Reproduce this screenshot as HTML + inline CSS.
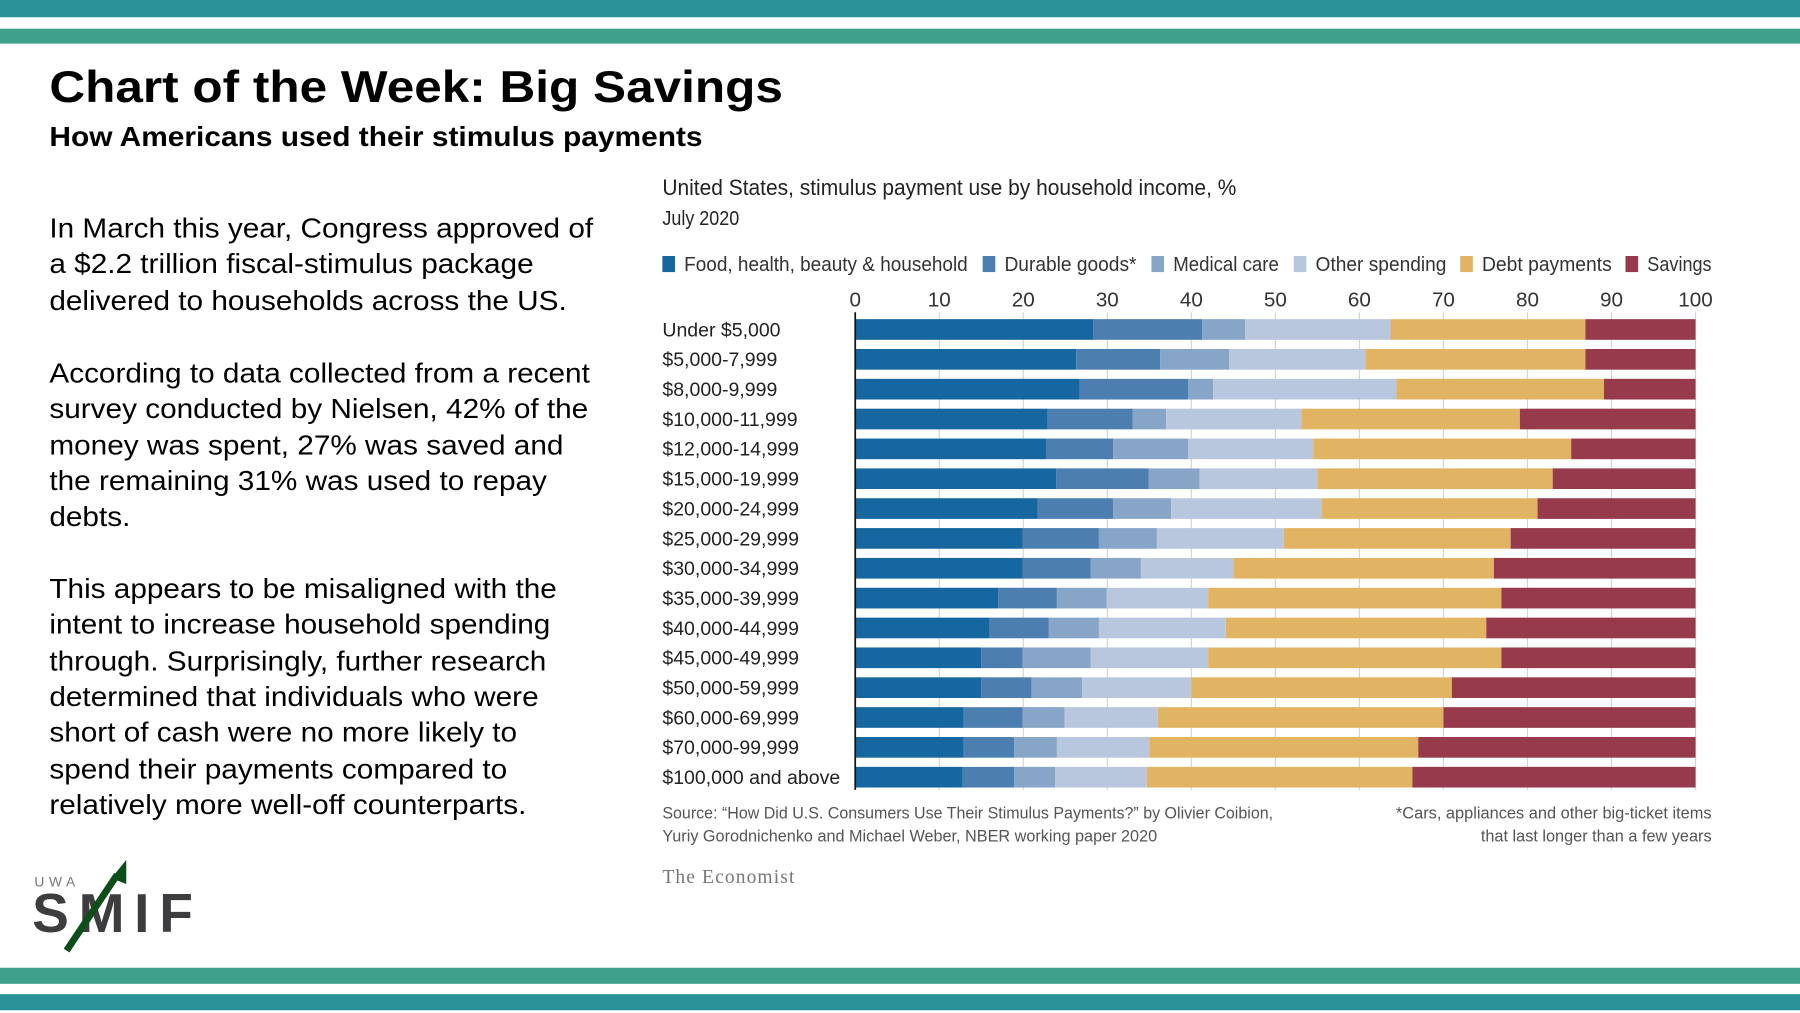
<!DOCTYPE html>
<html><head><meta charset="utf-8">
<style>
html,body{margin:0;padding:0;background:#fff;}
svg{display:block;}
.n{font-family:"Liberation Sans Narrow","Liberation Sans",sans-serif;}
.a{font-family:"Liberation Sans",Arial,sans-serif;}
</style></head>
<body>
<svg id="s" width="1800" height="1013" viewBox="0 0 1568 882.4" preserveAspectRatio="none" xmlns="http://www.w3.org/2000/svg">
<rect x="0" y="0" width="1568" height="15" fill="#2a9399"/>
<rect x="0" y="25" width="1568" height="13" fill="#3fa08c"/>
<rect x="0" y="843" width="1568" height="14" fill="#3fa08c"/>
<rect x="0" y="866" width="1568" height="14" fill="#2a9399"/>

<text class="a" x="43" y="89" font-size="39" font-weight="bold" fill="#000" textLength="639" lengthAdjust="spacingAndGlyphs">Chart of the Week: Big Savings</text>
<text class="a" x="43" y="127" font-size="24" font-weight="bold" fill="#000" textLength="569" lengthAdjust="spacingAndGlyphs">How Americans used their stimulus payments</text>

<g class="a" font-size="24" fill="#000" transform="translate(43,0) scale(1.08,1) translate(-43,0)">
<text x="43" y="207">In March this year, Congress approved of</text>
<text x="43" y="238">a $2.2 trillion fiscal-stimulus package</text>
<text x="43" y="270">delivered to households across the US.</text>
<text x="43" y="333">According to data collected from a recent</text>
<text x="43" y="364">survey conducted by Nielsen, 42% of the</text>
<text x="43" y="396">money was spent, 27% was saved and</text>
<text x="43" y="427">the remaining 31% was used to repay</text>
<text x="43" y="458">debts.</text>
<text x="43" y="521">This appears to be misaligned with the</text>
<text x="43" y="552">intent to increase household spending</text>
<text x="43" y="584">through. Surprisingly, further research</text>
<text x="43" y="615">determined that individuals who were</text>
<text x="43" y="646">short of cash were no more likely to</text>
<text x="43" y="678">spend their payments compared to</text>
<text x="43" y="709">relatively more well-off counterparts.</text>
</g>

<g>
<text class="a" x="30" y="772" font-size="12" fill="#777" letter-spacing="4">UWA</text>
<text class="a" x="28" y="812" font-size="48" font-weight="bold" fill="#3d3d3f" textLength="140" lengthAdjust="spacing">SMIF</text>
<line x1="58" y1="828" x2="102" y2="762" stroke="#0d4d1a" stroke-width="6"/>
<polygon points="97,765 110,749 110,770" fill="#0d4d1a"/>
</g>

<text class="n" x="577" y="170" font-size="19" fill="#222" textLength="500" lengthAdjust="spacingAndGlyphs">United States, stimulus payment use by household income, %</text>
<text class="n" x="577" y="196" font-size="18" fill="#222" textLength="67" lengthAdjust="spacingAndGlyphs">July 2020</text>

<g id="legend"></g>
<g id="chart"></g>

<g class="n" font-size="14.5" fill="#555">
<text x="577" y="713" textLength="532" lengthAdjust="spacingAndGlyphs">Source: “How Did U.S. Consumers Use Their Stimulus Payments?” by Olivier Coibion,</text>
<text x="577" y="733" textLength="431" lengthAdjust="spacingAndGlyphs">Yuriy Gorodnichenko and Michael Weber, NBER working paper 2020</text>
<text x="1491" y="713" text-anchor="end" textLength="275" lengthAdjust="spacingAndGlyphs">*Cars, appliances and other big-ticket items</text>
<text x="1491" y="733" text-anchor="end" textLength="201" lengthAdjust="spacingAndGlyphs">that last longer than a few years</text>
</g>
<text x="577" y="769" font-family="Liberation Serif,serif" font-size="17" fill="#777" textLength="115">The Economist</text>
</svg>
<script>
const categories=["Under $5,000","$5,000-7,999","$8,000-9,999","$10,000-11,999","$12,000-14,999","$15,000-19,999","$20,000-24,999","$25,000-29,999","$30,000-34,999","$35,000-39,999","$40,000-44,999","$45,000-49,999","$50,000-59,999","$60,000-69,999","$70,000-99,999","$100,000 and above"];
const seriesNames=["Food, health, beauty & household","Durable goods*","Medical care","Other spending","Debt payments","Savings"];
const food=[28.3,26.3,26.7,22.9,22.7,23.9,21.7,19.9,19.9,17.0,16.0,15.0,15.0,12.9,12.9,12.8];
const durable=[13.0,10.0,12.9,10.1,8.0,11.0,9.0,9.1,8.1,7.0,7.0,4.9,6.0,7.0,6.0,6.1];
const medical=[5.1,8.2,3.0,4.0,8.9,6.1,6.9,6.9,6.0,5.9,6.0,8.1,6.0,5.0,5.1,4.9];
const other=[17.3,16.2,21.8,16.1,14.9,14.0,17.9,15.1,11.0,12.1,15.1,14.0,13.0,11.1,11.0,10.9];
const debt=[23.2,26.2,24.7,26.0,30.7,28.0,25.7,27.0,31.0,34.9,31.0,34.9,31.0,34.0,32.0,31.6];
const savings=[13.1,13.1,10.9,20.9,14.8,17.0,18.8,22.0,24.0,23.1,24.9,23.1,29.0,30.0,33.0,33.7];
const ticks=[0,10,20,30,40,50,60,70,80,90,100];
const colors=["#16679f","#4c7fb0","#87a5c7","#b9c7de","#e1b463","#973a4c"];
const NS="http://www.w3.org/2000/svg";
const X0=745,X1=1477,Y0=278,STEP=26,BH=18;
const xs=v=>X0+(X1-X0)*v/100;
const ys=i=>Y0+i*STEP;
function mk(t,a,p){const e=document.createElementNS(NS,t);for(const k in a)e.setAttribute(k,a[k]);p.appendChild(e);return e;}
const chart=document.getElementById('chart');
const leg=document.getElementById('legend');
const legX=[577,856,1003,1127,1272,1416];
const legW=[247,115,92,114,113,56];
seriesNames.forEach((n,i)=>{
  const r=mk('rect',{x:legX[i],y:223,width:11,height:14,fill:colors[i]},leg);
  
  
  const t=mk('text',{x:legX[i]+19,y:236,'font-size':18,fill:'#333',class:'n',textLength:legW[i],lengthAdjust:'spacingAndGlyphs'},leg);
  t.textContent=n;
  
  
});
ticks.forEach(v=>{
  const g=mk('line',{x1:xs(v),x2:xs(v),y1:272,y2:688,stroke:'#d4d4d4','stroke-width':1},chart);
  
  
  const t=mk('text',{x:xs(v),y:267,'font-size':18,fill:'#333','text-anchor':'middle',class:'n'},chart);
  t.textContent=v;
  
  
});
const series=[food,durable,medical,other,debt,savings];
categories.forEach((c,i)=>{
  const t=mk('text',{x:577,y:ys(i)+15,'font-size':17,fill:'#222',class:'n'},chart);
  t.textContent=c;
  
  
  let acc=0;
  series.forEach((s,j)=>{
    const v=s[i];
    const r=mk('rect',{x:xs(acc),y:ys(i),width:xs(acc+v)-xs(acc),height:BH,fill:colors[j]},chart);
    
    
    acc+=v;
  });
});
const ax=mk('line',{x1:X0,x2:X0,y1:272,y2:688,stroke:'#111','stroke-width':1.5},chart);


</script>
</body></html>
